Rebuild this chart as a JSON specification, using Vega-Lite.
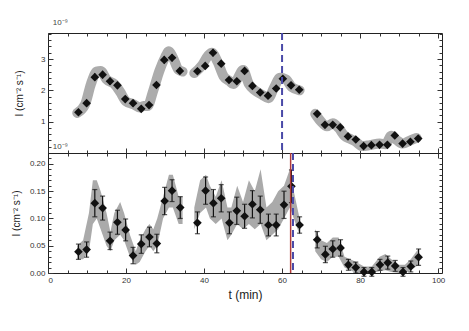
{
  "$schema": "https://vega.github.io/schema/vega-lite/v6.json",
  "background": "white",
  "padding": {"left": 10, "top": 18, "right": 5, "bottom": 5},
  "config": {
    "font": "Liberation Sans",
    "view": {"stroke": "#222", "strokeWidth": 1},
    "axis": {"labelFont": "Liberation Sans", "labelFontSize": 8, "labelColor": "#333", "tickColor": "#333", "domain": false, "grid": false, "titleFont": "Liberation Sans", "titleFontWeight": "normal", "titleColor": "#222"}
  },
  "datasets": {
    "top_pts": [
      {"t": 7.8, "v": 1.30, "e": 0.1}, {"t": 9.9, "v": 1.59, "e": 0.1}, {"t": 12.0, "v": 2.42, "e": 0.12}, {"t": 14.0, "v": 2.50, "e": 0.12},
      {"t": 15.9, "v": 2.29, "e": 0.12}, {"t": 17.8, "v": 2.16, "e": 0.1}, {"t": 19.8, "v": 1.72, "e": 0.1}, {"t": 21.8, "v": 1.59, "e": 0.1},
      {"t": 23.9, "v": 1.41, "e": 0.1}, {"t": 25.9, "v": 1.53, "e": 0.1}, {"t": 27.8, "v": 2.17, "e": 0.1}, {"t": 29.8, "v": 2.97, "e": 0.12},
      {"t": 31.8, "v": 3.04, "e": 0.12}, {"t": 33.8, "v": 2.62, "e": 0.1}, {"t": 38.3, "v": 2.61, "e": 0.1}, {"t": 40.3, "v": 2.78, "e": 0.1},
      {"t": 42.3, "v": 3.20, "e": 0.12}, {"t": 44.4, "v": 2.85, "e": 0.1}, {"t": 46.4, "v": 2.33, "e": 0.1}, {"t": 48.4, "v": 2.29, "e": 0.1},
      {"t": 50.4, "v": 2.62, "e": 0.1}, {"t": 52.4, "v": 2.14, "e": 0.1}, {"t": 54.4, "v": 1.93, "e": 0.1}, {"t": 56.4, "v": 1.83, "e": 0.1},
      {"t": 58.5, "v": 2.06, "e": 0.1}, {"t": 60.2, "v": 2.37, "e": 0.1}, {"t": 62.3, "v": 2.16, "e": 0.1}, {"t": 64.4, "v": 2.02, "e": 0.1},
      {"t": 69.0, "v": 1.25, "e": 0.08}, {"t": 71.0, "v": 0.90, "e": 0.08}, {"t": 73.0, "v": 0.90, "e": 0.08}, {"t": 74.9, "v": 0.82, "e": 0.08},
      {"t": 76.9, "v": 0.53, "e": 0.08}, {"t": 78.9, "v": 0.43, "e": 0.08}, {"t": 80.9, "v": 0.22, "e": 0.06}, {"t": 82.9, "v": 0.25, "e": 0.06},
      {"t": 85.0, "v": 0.26, "e": 0.06}, {"t": 87.0, "v": 0.26, "e": 0.06}, {"t": 88.9, "v": 0.56, "e": 0.08}, {"t": 90.9, "v": 0.30, "e": 0.06},
      {"t": 92.9, "v": 0.36, "e": 0.06}, {"t": 94.9, "v": 0.46, "e": 0.08}
    ],
    "top_band": [
      {"t": 7.5, "v": 1.28, "seg": 1}, {"t": 9.5, "v": 1.55, "seg": 1}, {"t": 11, "v": 2.2, "seg": 1},
      {"t": 12.5, "v": 2.6, "seg": 1}, {"t": 13.5, "v": 2.62, "seg": 1}, {"t": 15, "v": 2.35, "seg": 1},
      {"t": 17, "v": 2.2, "seg": 1}, {"t": 18.5, "v": 1.95, "seg": 1}, {"t": 20, "v": 1.65, "seg": 1},
      {"t": 22, "v": 1.55, "seg": 1}, {"t": 23.5, "v": 1.45, "seg": 1}, {"t": 24.5, "v": 1.5, "seg": 1},
      {"t": 25.5, "v": 1.5, "seg": 1}, {"t": 27, "v": 2.0, "seg": 1}, {"t": 28.5, "v": 2.6, "seg": 1},
      {"t": 30, "v": 3.05, "seg": 1}, {"t": 31, "v": 3.25, "seg": 1}, {"t": 32, "v": 3.05, "seg": 1},
      {"t": 33.5, "v": 2.65, "seg": 1}, {"t": 34.5, "v": 2.6, "seg": 1},
      {"t": 37.5, "v": 2.55, "seg": 2}, {"t": 39.5, "v": 2.8, "seg": 2}, {"t": 41, "v": 3.1, "seg": 2},
      {"t": 42, "v": 3.2, "seg": 2}, {"t": 43.5, "v": 2.9, "seg": 2}, {"t": 45, "v": 2.45, "seg": 2},
      {"t": 46.5, "v": 2.3, "seg": 2}, {"t": 47.5, "v": 2.2, "seg": 2}, {"t": 48.5, "v": 2.35, "seg": 2},
      {"t": 50, "v": 2.65, "seg": 2}, {"t": 51.5, "v": 2.2, "seg": 2}, {"t": 53, "v": 2.0, "seg": 2},
      {"t": 55, "v": 1.85, "seg": 2}, {"t": 56.5, "v": 1.75, "seg": 2}, {"t": 58, "v": 2.1, "seg": 2},
      {"t": 59.5, "v": 2.4, "seg": 2}, {"t": 61, "v": 2.35, "seg": 2}, {"t": 62.5, "v": 2.1, "seg": 2},
      {"t": 64.5, "v": 2.0, "seg": 2},
      {"t": 68.5, "v": 1.25, "seg": 3}, {"t": 70, "v": 1.0, "seg": 3}, {"t": 71.5, "v": 0.85, "seg": 3},
      {"t": 73, "v": 0.95, "seg": 3}, {"t": 74.5, "v": 0.8, "seg": 3}, {"t": 76, "v": 0.55, "seg": 3},
      {"t": 77.5, "v": 0.45, "seg": 3}, {"t": 79, "v": 0.35, "seg": 3}, {"t": 80.5, "v": 0.22, "seg": 3},
      {"t": 82.5, "v": 0.25, "seg": 3}, {"t": 85, "v": 0.3, "seg": 3}, {"t": 86.5, "v": 0.28, "seg": 3},
      {"t": 88, "v": 0.55, "seg": 3}, {"t": 89.5, "v": 0.4, "seg": 3}, {"t": 91, "v": 0.3, "seg": 3},
      {"t": 92.5, "v": 0.38, "seg": 3}, {"t": 94.5, "v": 0.48, "seg": 3}
    ],
    "bot_pts": [
      {"t": 7.8, "v": 0.039, "e": 0.014}, {"t": 9.9, "v": 0.043, "e": 0.014}, {"t": 12.0, "v": 0.128, "e": 0.025},
      {"t": 14.0, "v": 0.119, "e": 0.022}, {"t": 15.9, "v": 0.059, "e": 0.016}, {"t": 17.8, "v": 0.093, "e": 0.022},
      {"t": 19.9, "v": 0.079, "e": 0.02}, {"t": 21.8, "v": 0.032, "e": 0.015}, {"t": 23.9, "v": 0.053, "e": 0.017},
      {"t": 26.0, "v": 0.066, "e": 0.018}, {"t": 27.9, "v": 0.054, "e": 0.017}, {"t": 29.9, "v": 0.132, "e": 0.025},
      {"t": 31.8, "v": 0.151, "e": 0.02}, {"t": 33.9, "v": 0.120, "e": 0.02}, {"t": 38.3, "v": 0.092, "e": 0.02},
      {"t": 40.4, "v": 0.151, "e": 0.025}, {"t": 42.4, "v": 0.128, "e": 0.025}, {"t": 44.4, "v": 0.137, "e": 0.025},
      {"t": 46.5, "v": 0.092, "e": 0.02}, {"t": 48.4, "v": 0.114, "e": 0.025}, {"t": 50.4, "v": 0.104, "e": 0.022},
      {"t": 52.4, "v": 0.126, "e": 0.025}, {"t": 54.4, "v": 0.116, "e": 0.025}, {"t": 56.5, "v": 0.088, "e": 0.02},
      {"t": 58.5, "v": 0.088, "e": 0.02}, {"t": 60.5, "v": 0.125, "e": 0.025}, {"t": 62.4, "v": 0.159, "e": 0.03},
      {"t": 64.5, "v": 0.088, "e": 0.015}, {"t": 69.0, "v": 0.061, "e": 0.015}, {"t": 71.1, "v": 0.034, "e": 0.015},
      {"t": 73.0, "v": 0.044, "e": 0.015}, {"t": 75.0, "v": 0.046, "e": 0.015}, {"t": 77.0, "v": 0.015, "e": 0.01},
      {"t": 78.9, "v": 0.010, "e": 0.01}, {"t": 81.0, "v": 0.002, "e": 0.008}, {"t": 83.0, "v": 0.002, "e": 0.008},
      {"t": 85.1, "v": 0.015, "e": 0.01}, {"t": 87.1, "v": 0.019, "e": 0.012}, {"t": 89.0, "v": 0.013, "e": 0.01},
      {"t": 91.0, "v": 0.002, "e": 0.008}, {"t": 93.0, "v": 0.012, "e": 0.01}, {"t": 95.0, "v": 0.029, "e": 0.015}
    ],
    "bot_band": [
      {"t": 7.5, "lo": 0.025, "hi": 0.05, "seg": 1}, {"t": 9, "lo": 0.025, "hi": 0.06, "seg": 1},
      {"t": 10.5, "lo": 0.04, "hi": 0.11, "seg": 1}, {"t": 11.5, "lo": 0.09, "hi": 0.17, "seg": 1},
      {"t": 12.5, "lo": 0.10, "hi": 0.17, "seg": 1}, {"t": 13.5, "lo": 0.08, "hi": 0.15, "seg": 1},
      {"t": 15, "lo": 0.05, "hi": 0.11, "seg": 1}, {"t": 16, "lo": 0.04, "hi": 0.075, "seg": 1},
      {"t": 17, "lo": 0.06, "hi": 0.11, "seg": 1}, {"t": 18.5, "lo": 0.07, "hi": 0.13, "seg": 1},
      {"t": 19.5, "lo": 0.06, "hi": 0.11, "seg": 1}, {"t": 21, "lo": 0.03, "hi": 0.07, "seg": 1},
      {"t": 22.5, "lo": 0.015, "hi": 0.04, "seg": 1}, {"t": 23.5, "lo": 0.02, "hi": 0.06, "seg": 1},
      {"t": 25, "lo": 0.04, "hi": 0.08, "seg": 1}, {"t": 26, "lo": 0.05, "hi": 0.09, "seg": 1},
      {"t": 27, "lo": 0.04, "hi": 0.08, "seg": 1}, {"t": 28, "lo": 0.05, "hi": 0.10, "seg": 1},
      {"t": 29.5, "lo": 0.10, "hi": 0.14, "seg": 1}, {"t": 31, "lo": 0.12, "hi": 0.18, "seg": 1},
      {"t": 32, "lo": 0.12, "hi": 0.18, "seg": 1}, {"t": 33.5, "lo": 0.09, "hi": 0.14, "seg": 1},
      {"t": 34.5, "lo": 0.09, "hi": 0.14, "seg": 1},
      {"t": 37.5, "lo": 0.08, "hi": 0.12, "seg": 2}, {"t": 39, "lo": 0.11, "hi": 0.17, "seg": 2},
      {"t": 40.5, "lo": 0.12, "hi": 0.18, "seg": 2}, {"t": 41.5, "lo": 0.10, "hi": 0.16, "seg": 2},
      {"t": 43, "lo": 0.09, "hi": 0.14, "seg": 2}, {"t": 44.5, "lo": 0.10, "hi": 0.17, "seg": 2},
      {"t": 46, "lo": 0.06, "hi": 0.12, "seg": 2}, {"t": 47, "lo": 0.07, "hi": 0.12, "seg": 2},
      {"t": 48.5, "lo": 0.09, "hi": 0.16, "seg": 2}, {"t": 50, "lo": 0.08, "hi": 0.13, "seg": 2},
      {"t": 51.5, "lo": 0.09, "hi": 0.17, "seg": 2}, {"t": 53, "lo": 0.08, "hi": 0.15, "seg": 2},
      {"t": 54.5, "lo": 0.09, "hi": 0.19, "seg": 2}, {"t": 56, "lo": 0.06, "hi": 0.12, "seg": 2},
      {"t": 57.5, "lo": 0.07, "hi": 0.13, "seg": 2}, {"t": 59, "lo": 0.08, "hi": 0.15, "seg": 2},
      {"t": 60.5, "lo": 0.10, "hi": 0.16, "seg": 2}, {"t": 62, "lo": 0.12, "hi": 0.19, "seg": 2},
      {"t": 63, "lo": 0.10, "hi": 0.15, "seg": 2}, {"t": 64.5, "lo": 0.07, "hi": 0.10, "seg": 2},
      {"t": 68.5, "lo": 0.04, "hi": 0.08, "seg": 3}, {"t": 70, "lo": 0.025, "hi": 0.06, "seg": 3},
      {"t": 71.5, "lo": 0.02, "hi": 0.055, "seg": 3}, {"t": 73, "lo": 0.03, "hi": 0.065, "seg": 3},
      {"t": 74.5, "lo": 0.03, "hi": 0.065, "seg": 3}, {"t": 76, "lo": 0.01, "hi": 0.03, "seg": 3},
      {"t": 77.5, "lo": 0.005, "hi": 0.025, "seg": 3}, {"t": 79, "lo": 0.0, "hi": 0.02, "seg": 3},
      {"t": 81, "lo": 0.0, "hi": 0.012, "seg": 3}, {"t": 83, "lo": 0.0, "hi": 0.012, "seg": 3},
      {"t": 85, "lo": 0.003, "hi": 0.03, "seg": 3}, {"t": 86.5, "lo": 0.005, "hi": 0.035, "seg": 3},
      {"t": 88, "lo": 0.002, "hi": 0.025, "seg": 3}, {"t": 90, "lo": 0.0, "hi": 0.015, "seg": 3},
      {"t": 91.5, "lo": 0.0, "hi": 0.015, "seg": 3}, {"t": 93, "lo": 0.005, "hi": 0.025, "seg": 3},
      {"t": 95, "lo": 0.015, "hi": 0.045, "seg": 3}
    ],
    "top_notes": [
      {"t": 1.2, "v": 4.14, "label": "10⁻⁹"},
      {"t": 1.2, "v": 0.2, "label": "10⁻⁹"}
    ],
    "top_marker": [{"t": 60}],
    "bot_red": [{"t": 62.2}],
    "bot_blue": [{"t": 62.8}]
  },
  "spacing": 0,
  "bounds": "flush",
  "vconcat": [
    {
      "width": 394,
      "height": 120,
      "resolve": {"axis": {"x": "independent", "y": "independent"}},
      "layer": [
        {
          "data": {"name": "top_band"},
          "mark": {"type": "line", "color": "#acacac", "strokeWidth": 10, "strokeCap": "round", "strokeJoin": "round", "interpolate": "monotone"},
          "encoding": {
            "x": {"field": "t", "type": "quantitative", "scale": {"domain": [0, 101], "nice": false, "zero": false},
                  "axis": {"orient": "bottom", "values": [0,5,10,15,20,25,30,35,40,45,50,55,60,65,70,75,80,85,90,95,100], "labels": false, "tickSize": -3, "title": null}},
            "y": {"field": "v", "type": "quantitative", "scale": {"domain": [0, 3.83], "nice": false},
                  "axis": {"orient": "left", "values": [1, 2, 3], "tickSize": -5, "labelPadding": 8, "title": "I (cm⁻² s⁻¹)", "titleFontSize": 10, "titlePadding": 16}},
            "detail": {"field": "seg", "type": "nominal"}
          }
        },
        {
          "data": {"name": "top_pts"},
          "mark": {"type": "errorbar", "color": "#111", "thickness": 1},
          "encoding": {
            "x": {"field": "t", "type": "quantitative",
                  "axis": {"orient": "top", "values": [0,5,10,15,25,30,35,45,50,55,65,70,75,85,90,95], "labels": false, "tickSize": -3, "title": null}},
            "y": {"field": "v", "type": "quantitative",
                  "axis": {"orient": "right", "values": [0.2,0.4,0.6,0.8,1,1.2,1.4,1.6,1.8,2,2.2,2.4,2.6,2.8,3,3.2,3.4,3.6,3.8], "labels": false, "tickSize": -3, "title": null}},
            "yError": {"field": "e"}
          }
        },
        {
          "data": {"name": "top_pts"},
          "mark": {"type": "point", "shape": "diamond", "filled": true, "color": "#111", "size": 75, "opacity": 1},
          "encoding": {
            "x": {"field": "t", "type": "quantitative",
                  "axis": {"orient": "bottom", "values": [0, 20, 40, 60, 80, 100], "labels": false, "tickSize": -5, "title": null}},
            "y": {"field": "v", "type": "quantitative",
                  "axis": {"orient": "left", "values": [0.2,0.4,0.6,0.8,1.2,1.4,1.6,1.8,2.2,2.4,2.6,2.8,3.2,3.4,3.6,3.8], "labels": false, "tickSize": -3, "title": null}}
          }
        },
        {
          "data": {"name": "top_marker"},
          "mark": {"type": "rule", "color": "#4a4aa8", "strokeWidth": 2, "strokeDash": [7, 4]},
          "encoding": {
            "x": {"field": "t", "type": "quantitative",
                  "axis": {"orient": "top", "values": [20, 40, 60, 80, 100], "labels": false, "tickSize": -5, "title": null}}
          }
        },
        {
          "data": {"name": "top_notes"},
          "mark": {"type": "text", "align": "left", "baseline": "middle", "fontSize": 8, "color": "#444", "clip": false},
          "encoding": {
            "x": {"field": "t", "type": "quantitative", "axis": null},
            "y": {"field": "v", "type": "quantitative", "axis": {"orient": "right", "values": [1, 2, 3], "labels": false, "tickSize": -5, "title": null}},
            "text": {"field": "label"}
          }
        }
      ]
    },
    {
      "width": 394,
      "height": 120,
      "resolve": {"axis": {"x": "independent", "y": "independent"}},
      "layer": [
        {
          "data": {"name": "bot_band"},
          "mark": {"type": "area", "color": "#aaaaaa", "opacity": 1},
          "encoding": {
            "x": {"field": "t", "type": "quantitative", "scale": {"domain": [0, 101], "nice": false, "zero": false},
                  "axis": {"orient": "bottom", "values": [0, 20, 40, 60, 80, 100], "tickSize": -5, "labelPadding": 8, "title": "t (min)", "titleFontSize": 12, "titlePadding": 5}},
            "y": {"field": "lo", "type": "quantitative", "scale": {"domain": [0, 0.22], "nice": false},
                  "axis": {"orient": "left", "values": [0, 0.05, 0.1, 0.15, 0.2], "tickSize": -5, "labelPadding": 8, "title": "I (cm⁻² s⁻¹)", "titleFontSize": 10, "titlePadding": 8}},
            "y2": {"field": "hi"},
            "detail": {"field": "seg", "type": "nominal"}
          }
        },
        {
          "data": {"name": "bot_pts"},
          "mark": {"type": "errorbar", "ticks": {"size": 5, "color": "#111"}, "color": "#111", "thickness": 1.2},
          "encoding": {
            "x": {"field": "t", "type": "quantitative",
                  "axis": {"orient": "bottom", "values": [5,10,15,25,30,35,45,50,55,65,70,75,85,90,95], "labels": false, "tickSize": -3, "title": null}},
            "y": {"field": "v", "type": "quantitative",
                  "axis": {"orient": "left", "values": [0.01,0.02,0.03,0.04,0.06,0.07,0.08,0.09,0.11,0.12,0.13,0.14,0.16,0.17,0.18,0.19,0.21], "labels": false, "tickSize": -3, "title": null}},
            "yError": {"field": "e"}
          }
        },
        {
          "data": {"name": "bot_pts"},
          "mark": {"type": "point", "shape": "diamond", "filled": true, "color": "#111", "size": 75, "opacity": 1},
          "encoding": {
            "x": {"field": "t", "type": "quantitative",
                  "axis": {"orient": "top", "values": [5,10,15,25,30,35,45,50,55,65,70,75,85,90,95], "labels": false, "tickSize": -3, "title": null}},
            "y": {"field": "v", "type": "quantitative",
                  "axis": {"orient": "right", "values": [0.01,0.02,0.03,0.04,0.05,0.06,0.07,0.08,0.09,0.1,0.11,0.12,0.13,0.14,0.15,0.16,0.17,0.18,0.19,0.2,0.21], "labels": false, "tickSize": -3, "title": null}}
          }
        },
        {
          "data": {"name": "bot_red"},
          "mark": {"type": "rule", "color": "#b03a3a", "strokeWidth": 1.5},
          "encoding": {
            "x": {"field": "t", "type": "quantitative",
                  "axis": {"orient": "top", "values": [20, 40, 60, 80, 100], "labels": false, "tickSize": -5, "title": null}}
          }
        },
        {
          "data": {"name": "bot_blue"},
          "mark": {"type": "rule", "color": "#4a4aa8", "strokeWidth": 2, "strokeDash": [7, 4]},
          "encoding": {
            "x": {"field": "t", "type": "quantitative", "axis": null}
          }
        }
      ]
    }
  ]
}
